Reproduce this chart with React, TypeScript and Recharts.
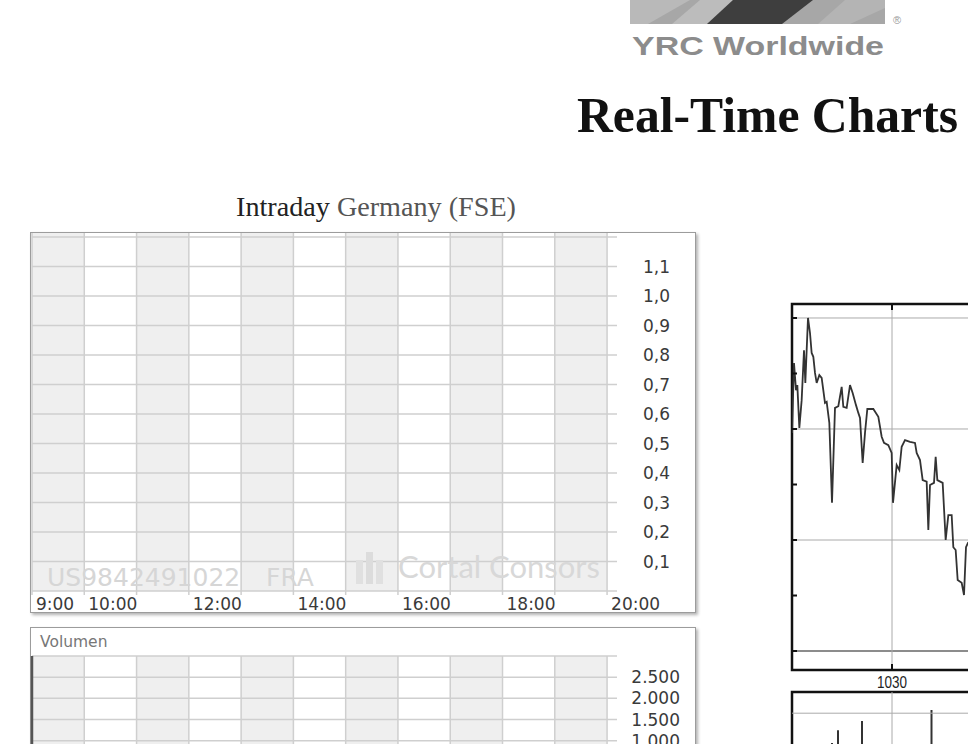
import React from 'react';
import {
  LineChart,
  ComposedChart,
  Line,
  Bar,
  XAxis,
  YAxis,
  CartesianGrid,
  ReferenceLine,
  ReferenceArea,
} from 'recharts';

// Intraday Germany (FSE): no trades yet, so price and volume are empty
const intradayHours = [9, 10, 11, 12, 13, 14, 15, 16, 17, 18, 19, 20];
const intradayHourLabels = ['9:00', '10:00', '', '12:00', '', '14:00', '', '16:00', '', '18:00', '', '20:00'];
const intradayPrices = [null, null, null, null, null, null, null, null, null, null, null, null];
const intradayVolumes = [null, null, null, null, null, null, null, null, null, null, null, null];

const priceTicks = [0, 0.1, 0.2, 0.3, 0.4, 0.5, 0.6, 0.7, 0.8, 0.9, 1.0, 1.1, 1.2];
const priceTickLabels = ['', '0,1', '0,2', '0,3', '0,4', '0,5', '0,6', '0,7', '0,8', '0,9', '1,0', '1,1', ''];
const volumeTicks = [0, 500, 1000, 1500, 2000, 2500, 3000];
const volumeTickLabels = ['', '500', '1.000', '1.500', '2.000', '2.500', ''];

// US real-time chart (minutes after the open, price in chart units)
const usMinutes = [
  0, 1.2, 2.4, 3.2, 4.4, 5.8, 7.2, 8.0, 8.8, 9.6, 10.8, 11.8, 12.8, 13.8, 14.8, 16.4, 17.8,
  19.8, 20.8, 22.4, 24.0, 25.8, 27.8, 29.8, 30.8, 32.8, 34.8, 36.4, 38.4, 39.8, 40.8, 42.4,
  43.8, 45.2, 48.8, 51.8, 53.8, 55.2, 57.8, 59.8, 60.6, 62.8, 64.4, 65.8, 67.8, 70.8, 73.8,
  74.8, 76.8, 78.4, 80.8, 81.8, 82.8, 85.2, 86.2, 87.2, 90.4, 92.2, 93.8, 95.8, 96.8, 98.2,
  99.4, 101.8, 103.2, 104.4, 105.6, 108,
];
const usPrices = [
  3.93, 5.19, 4.7, 4.79, 4.02, 4.52, 5.42, 4.83, 5.42, 6.0, 5.73, 5.37, 5.3, 5.01, 4.83, 4.97, 4.92,
  4.47, 4.49, 4.11, 2.67, 4.38, 4.41, 4.76, 4.4, 4.38, 4.79, 4.65, 4.43, 4.29, 4.2, 3.39,
  3.93, 4.36, 4.36, 4.22, 3.86, 3.75, 3.71, 3.57, 2.67, 3.35, 3.26, 3.68, 3.8, 3.77, 3.75,
  3.57, 3.44, 3.08, 3.05, 2.18, 2.99, 3.03, 3.5, 3.08, 3.03, 2.0, 2.45, 2.45, 1.87, 1.82,
  1.28, 1.23, 1.01, 1.87, 1.95, 2.0,
];
const usPriceTicks = [0, 1, 2, 3, 4, 5, 6];
const usPriceGrid = [2, 4, 6];
const usTimeTicks = [60];
const usTimeLabels = ['1030'];
const usVolMinutes = [24.0, 27.6, 42.0, 83.7];
const usVolumes = [2.6, 3.2, 3.63, 4.15];

const intradayData = intradayHours.map((h, i) => ({ hour: h, price: intradayPrices[i], volume: intradayVolumes[i] }));
const usData = usMinutes.map((t, i) => ({ t, price: usPrices[i] }));
const usVolData = usVolMinutes.map((t, i) => ({ t, vol: usVolumes[i] }));

const INTRADAY_X = [9, 20.19];
const PRICE_Y = [0, 1.2136];
const US_X = [0, 390];
const US_Y = [-0.342, 6.252];
const US_VOL_Y = [0, 5];

const FONT = '"DejaVu Sans", Verdana, sans-serif';
const GRID = '#cfcfcf';

const HourTick = (props: any) => {
  const { x, payload } = props;
  const label = intradayHourLabels[intradayHours.indexOf(payload.value)];
  if (!label) return <g />;
  return (
    <text x={x + 4} y={378} fontSize={17} fontFamily={FONT} fill="#3a3a3a">
      {label}
    </text>
  );
};

const PriceTick = (props: any) => {
  const { y, payload } = props;
  const label = priceTickLabels[priceTicks.indexOf(payload.value)];
  if (!label) return <g />;
  return (
    <text x={613} y={y + 6} fontSize={17} fontFamily={FONT} fill="#3a3a3a">
      {label}
    </text>
  );
};

const VolumeTick = (props: any) => {
  const { y, payload } = props;
  const label = volumeTickLabels[volumeTicks.indexOf(payload.value)];
  if (!label) return <g />;
  return (
    <text x={650} y={y + 6} fontSize={17} fontFamily={FONT} fill="#3a3a3a" textAnchor="end">
      {label}
    </text>
  );
};

const UsTimeTick = (props: any) => {
  const { x, y, payload } = props;
  const label = usTimeLabels[usTimeTicks.indexOf(payload.value)];
  return (
    <g>
      <line x1={x} x2={x} y1={y} y2={y - 6} stroke="#111" strokeWidth={2} />
      <line x1={x} x2={x} y1={y - 366} y2={y - 360} stroke="#111" strokeWidth={2} />
      <text
        x={x}
        y={y + 18}
        textAnchor="middle"
        fontSize={16}
        fontFamily='"Liberation Sans", Arial, sans-serif'
        fill="#222"
        textLength={30}
        lengthAdjust="spacingAndGlyphs"
      >
        {label}
      </text>
    </g>
  );
};

const frame: React.CSSProperties = {
  position: 'absolute',
  boxSizing: 'border-box',
  border: '1px solid #9c9c9c',
  boxShadow: '2px 2px 3px rgba(0,0,0,0.3)',
  background: '#fff',
};

export default function App() {
  return (
    <div style={{ position: 'absolute', left: 0, top: 0, width: 968, height: 744, overflow: 'hidden', background: '#fff' }}>
      {/* page header: logo + titles */}
      <svg width={968} height={744} style={{ position: 'absolute', left: 0, top: 0 }}>
        <rect x={630} y={0} width={255} height={24} fill="#a7a7a7" />
        <polygon points="630,0 690,0 648,24 630,24" fill="#b9b9b9" />
        <polygon points="700,0 733,0 707,24 672,24" fill="#bcbcbc" />
        <polygon points="733,0 813,0 782,24 707,24" fill="#3e3e3e" />
        <polygon points="845,0 885,0 885,8 850,24 818,24" fill="#b4b4b4" />
        <text x={893} y={24} fontSize={11} fill="#9a9a9a" fontFamily='"Liberation Sans", Arial, sans-serif'>®</text>
        <text
          x={632}
          y={55}
          fontSize={25}
          fontWeight="bold"
          fill="#8c8c8c"
          fontFamily='"Liberation Sans", Arial, sans-serif'
          textLength={252}
          lengthAdjust="spacingAndGlyphs"
        >
          YRC Worldwide
        </text>
        <text
          x={577}
          y={132}
          fontSize={50}
          fontWeight="bold"
          fill="#111"
          fontFamily='"Liberation Serif", "Times New Roman", serif'
          textLength={381}
          lengthAdjust="spacingAndGlyphs"
        >
          Real-Time Charts
        </text>
        <text
          x={236}
          y={216}
          fontSize={27.5}
          fontFamily='"Liberation Serif", "Times New Roman", serif'
          fill="#222"
          textLength={280}
          lengthAdjust="spacingAndGlyphs"
        >
          Intraday <tspan fill="#555">Germany (FSE)</tspan>
        </text>
      </svg>

      {/* Intraday price chart */}
      <div style={{ ...frame, left: 30, top: 232, width: 666, height: 381 }} />
      <div style={{ position: 'absolute', left: 30, top: 232, width: 666, height: 381 }}>
        <LineChart width={666} height={381} data={intradayData} margin={{ top: 1, right: 0, bottom: 0, left: 2 }}>
          <CartesianGrid stroke={GRID} strokeWidth={1.5} verticalFill={['#efefef', '#ffffff']} syncWithTicks />
          <XAxis
            dataKey="hour"
            type="number"
            domain={INTRADAY_X}
            ticks={intradayHours}
            interval={0}
            height={22}
            axisLine={false}
            tickLine={{ stroke: GRID, strokeWidth: 1.5 }}
            tickSize={4}
            tick={HourTick}
            allowDataOverflow
          />
          <YAxis
            orientation="right"
            type="number"
            domain={PRICE_Y}
            ticks={priceTicks}
            interval={0}
            width={79}
            axisLine={false}
            tickLine={false}
            tick={PriceTick}
            allowDataOverflow
          />
          <Line dataKey="price" stroke="#1a4f9c" dot={false} isAnimationActive={false} />
        </LineChart>
        <svg width={666} height={381} style={{ position: 'absolute', left: 0, top: 0, pointerEvents: 'none' }}>
          <text x={17} y={354} fontSize={25} fontFamily={FONT} fill="#d6d6d6">US9842491022</text>
          <text x={236} y={354} fontSize={25} fontFamily={FONT} fill="#d6d6d6">FRA</text>
          <rect x={326} y={328} width={7} height={24} fill="#e0e0e0" />
          <rect x={336} y={320} width={7} height={32} fill="#dcdcdc" />
          <rect x={346} y={328} width={7} height={24} fill="#e0e0e0" />
          <text
            x={368}
            y={346}
            fontSize={30}
            fontFamily='Lato, "Open Sans", sans-serif'
            fill="#d8d8d8"
            textLength={202}
            lengthAdjust="spacingAndGlyphs"
          >
            Cortal Consors
          </text>
        </svg>
      </div>

      {/* Intraday volume chart */}
      <div style={{ ...frame, left: 30, top: 627, width: 666, height: 200 }} />
      <div style={{ position: 'absolute', left: 30, top: 627, width: 666, height: 200 }}>
        <ComposedChart width={666} height={200} data={intradayData} margin={{ top: 29, right: 0, bottom: 44, left: 2 }}>
          <CartesianGrid stroke={GRID} strokeWidth={1.5} verticalFill={['#efefef', '#ffffff']} syncWithTicks />
          <XAxis dataKey="hour" type="number" domain={INTRADAY_X} ticks={intradayHours} interval={0} hide allowDataOverflow />
          <YAxis
            orientation="right"
            type="number"
            domain={[0, 3000]}
            ticks={volumeTicks}
            interval={0}
            width={79}
            axisLine={false}
            tickLine={false}
            tick={VolumeTick}
            allowDataOverflow
          />
          <ReferenceLine x={9} stroke="#555" strokeWidth={2.5} />
          <Bar dataKey="volume" fill="#1a4f9c" barSize={4} isAnimationActive={false} />
        </ComposedChart>
        <svg width={666} height={40} style={{ position: 'absolute', left: 0, top: 0, pointerEvents: 'none' }}>
          <text x={10} y={20} fontSize={15.5} fontFamily={FONT} fill="#777">Volumen</text>
        </svg>
      </div>

      {/* US real-time price chart */}
      <div style={{ position: 'absolute', left: 782, top: 294, width: 700, height: 400 }}>
        <LineChart width={700} height={400} data={usData} margin={{ top: 10, right: 40, bottom: 0, left: 10 }}>
          <XAxis
            dataKey="t"
            type="number"
            domain={US_X}
            ticks={usTimeTicks}
            interval={0}
            height={24}
            axisLine={false}
            tickLine={false}
            tickSize={0}
            tickMargin={0}
            tick={UsTimeTick}
            allowDataOverflow
          />
          <YAxis
            type="number"
            domain={US_Y}
            ticks={usPriceTicks}
            interval={0}
            mirror
            axisLine={false}
            tickSize={5}
            tickLine={{ stroke: '#111', strokeWidth: 2 }}
            tick={() => <g />}
            allowDataOverflow
          />
          {usPriceGrid.map((v) => (
            <ReferenceLine key={v} y={v} stroke="#aaa" strokeWidth={1} />
          ))}
          <ReferenceLine y={0} stroke="#666" strokeWidth={1.5} />
          {usTimeTicks.map((t) => (
            <ReferenceLine key={t} x={t} stroke="#aaa" strokeWidth={1} />
          ))}
          <ReferenceArea x1={US_X[0]} x2={US_X[1]} y1={US_Y[0]} y2={US_Y[1]} fill="none" stroke="#111" strokeWidth={2.5} />
          <Line dataKey="price" type="linear" stroke="#333" strokeWidth={1.8} dot={false} isAnimationActive={false} />
        </LineChart>
      </div>

      {/* US real-time volume chart */}
      <div style={{ position: 'absolute', left: 782, top: 682, width: 700, height: 200 }}>
        <ComposedChart width={700} height={200} data={usVolData} margin={{ top: 10, right: 40, bottom: 84, left: 10 }}>
          <XAxis dataKey="t" type="number" domain={US_X} hide allowDataOverflow />
          <YAxis type="number" domain={US_VOL_Y} hide allowDataOverflow />
          <ReferenceLine y={4} stroke="#aaa" strokeWidth={1} />
          {usTimeTicks.map((t) => (
            <ReferenceLine key={t} x={t} stroke="#aaa" strokeWidth={1} />
          ))}
          <ReferenceArea x1={US_X[0]} x2={US_X[1]} y1={US_VOL_Y[0]} y2={US_VOL_Y[1]} fill="none" stroke="#111" strokeWidth={2.5} />
          <Bar dataKey="vol" fill="#333" barSize={2} isAnimationActive={false} />
        </ComposedChart>
      </div>
    </div>
  );
}
